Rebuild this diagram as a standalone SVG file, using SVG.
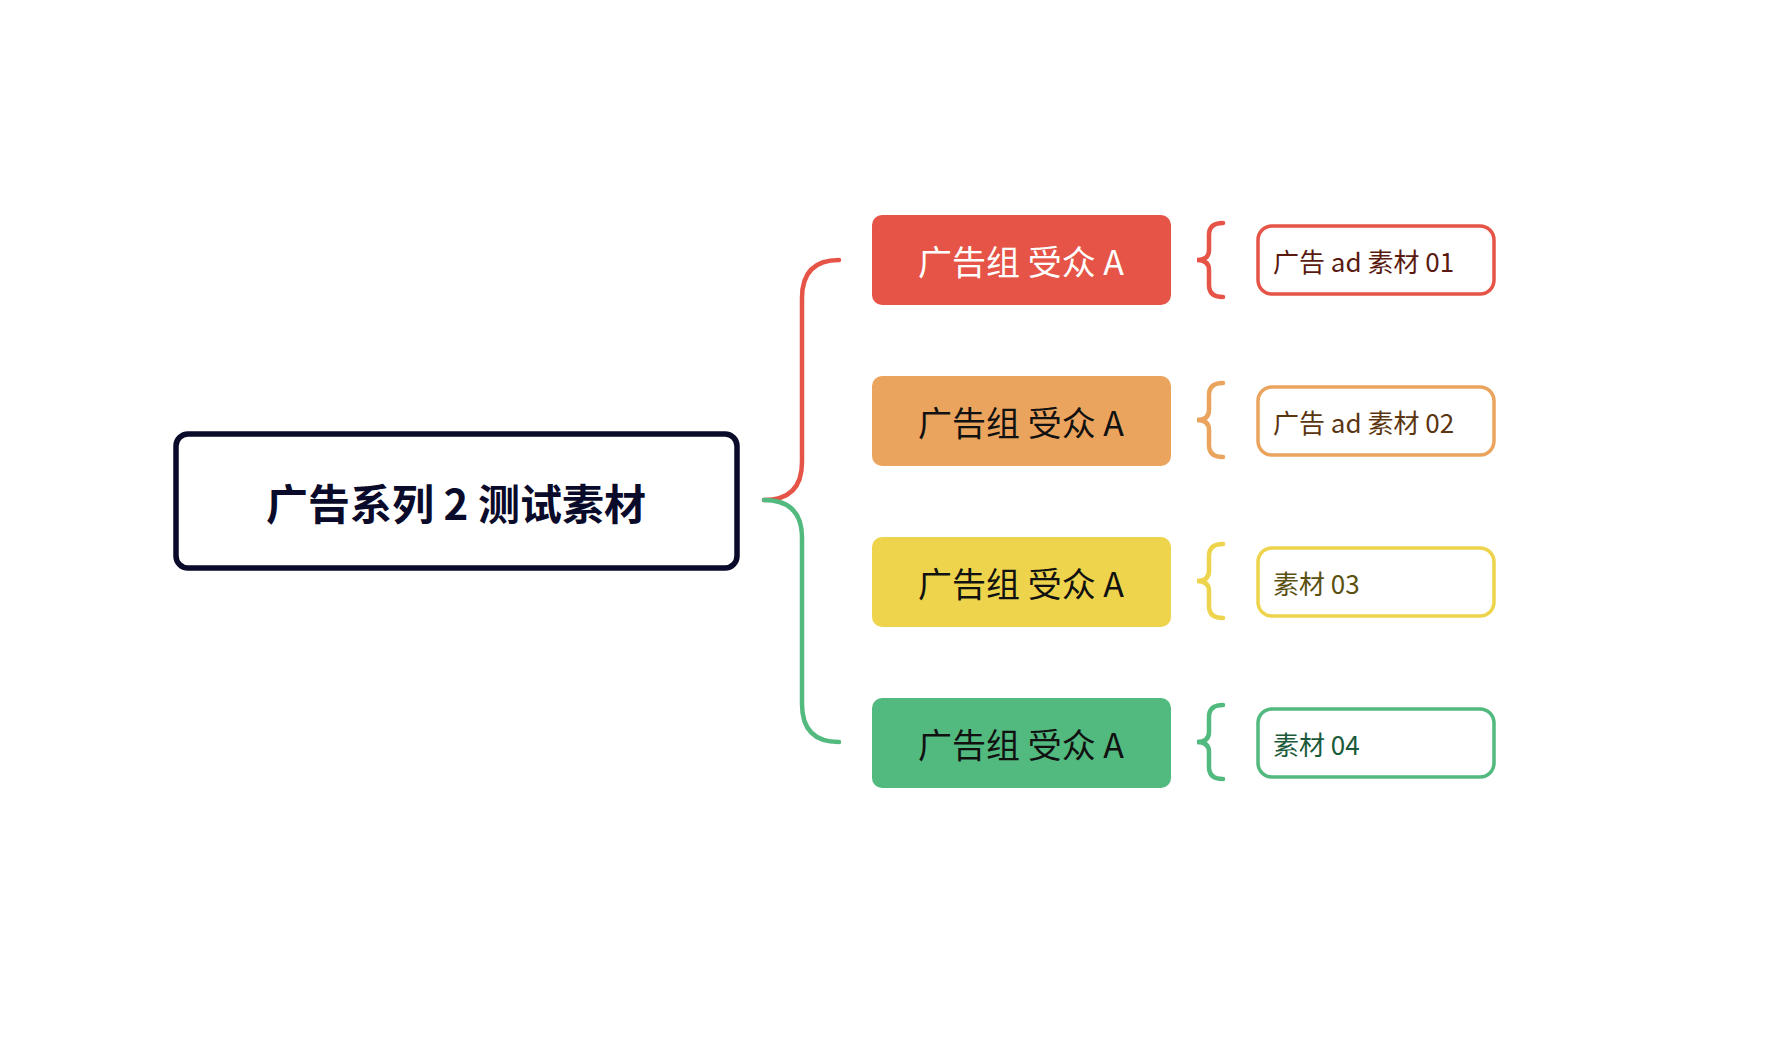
<svg xmlns="http://www.w3.org/2000/svg" width="1782" height="1056" viewBox="0 0 1782 1056">
<style>
text{font-family:"Noto Sans CJK SC","Noto Sans",sans-serif;dominant-baseline:central}
.b{font-size:34px;text-anchor:middle}
.l{font-size:26px}
.c{fill:none;stroke-width:4.5;stroke-linecap:round}
.r{fill:#fff;stroke-width:3.5}
</style>
<rect width="1782" height="1056" fill="#fff"/>
<g id="connectors">
<path class="c" stroke="#e55446" d="M764 500 Q802 500 802 462 L802 298 Q802 260 839 260"/>
<path class="c" stroke="#52b97f" d="M764 500 Q802 500 802 538 L802 704 Q802 742 839 742"/>
<path class="c" stroke="#e55446" d="M1223 223 Q1209 223 1209 235 L1209 250 Q1209 260 1197 260 Q1209 260 1209 270 L1209 285 Q1209 297 1223 297"/>
<path class="c" stroke="#eaa45e" d="M1223 383 Q1209 383 1209 395 L1209 410 Q1209 420 1197 420 Q1209 420 1209 430 L1209 445 Q1209 457 1223 457"/>
<path class="c" stroke="#edd44c" d="M1223 544 Q1209 544 1209 556 L1209 571 Q1209 581 1197 581 Q1209 581 1209 591 L1209 606 Q1209 618 1223 618"/>
<path class="c" stroke="#52b97f" d="M1223 705 Q1209 705 1209 717 L1209 732 Q1209 742 1197 742 Q1209 742 1209 752 L1209 767 Q1209 779 1223 779"/>
</g>
<g id="root">
<rect x="176" y="434" width="561" height="134" rx="12" fill="#fff" stroke="#0a0a2a" stroke-width="5.5"/>
<text x="456" y="501" font-size="42" font-weight="bold" text-anchor="middle" fill="#0a0a2a">广告系列 2 测试素材</text>
</g>
<g id="g1"><rect x="872" y="215" width="299" height="90" rx="10" fill="#e55446"/><text class="b" x="1021" y="260" fill="#fff">广告组 受众 A</text></g>
<g id="g2"><rect x="872" y="376" width="299" height="90" rx="10" fill="#eaa45e"/><text class="b" x="1021" y="421" fill="#111">广告组 受众 A</text></g>
<g id="g3"><rect x="872" y="537" width="299" height="90" rx="10" fill="#edd44c"/><text class="b" x="1021" y="582" fill="#111">广告组 受众 A</text></g>
<g id="g4"><rect x="872" y="698" width="299" height="90" rx="10" fill="#52b97f"/><text class="b" x="1021" y="743" fill="#111">广告组 受众 A</text></g>
<g id="m1"><rect class="r" x="1258" y="226" width="236" height="68" rx="14" stroke="#e55446"/><text class="l" x="1273" y="260" fill="#5a1a10">广告 ad 素材 01</text></g>
<g id="m2"><rect class="r" x="1258" y="387" width="236" height="68" rx="14" stroke="#eaa45e"/><text class="l" x="1273" y="421" fill="#5a3510">广告 ad 素材 02</text></g>
<g id="m3"><rect class="r" x="1258" y="548" width="236" height="68" rx="14" stroke="#edd44c"/><text class="l" x="1273" y="582" fill="#5a5010">素材 03</text></g>
<g id="m4"><rect class="r" x="1258" y="709" width="236" height="68" rx="14" stroke="#52b97f"/><text class="l" x="1273" y="743" fill="#1a5a3a">素材 04</text></g>
</svg>
